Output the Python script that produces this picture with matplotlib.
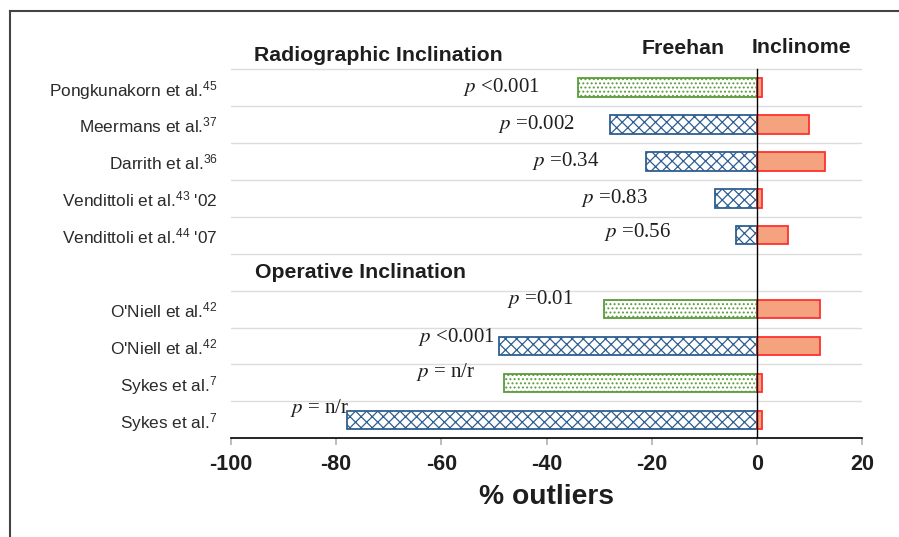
import matplotlib
matplotlib.use("Agg")
import matplotlib.pyplot as plt
from matplotlib.lines import Line2D

plt.rcParams['font.family'] = ['Liberation Sans', 'DejaVu Sans']
plt.rcParams['mathtext.fontset'] = 'custom'
plt.rcParams['mathtext.rm'] = 'Liberation Sans'
plt.rcParams['mathtext.it'] = 'Liberation Sans:italic'
plt.rcParams['mathtext.bf'] = 'Liberation Sans:bold'
plt.rcParams['hatch.linewidth'] = 0.9

# ---- data (top to bottom) ----
studies = ["Pongkunakorn et al.", "Meermans et al.", "Darrith et al.",
           "Vendittoli et al.", "Vendittoli et al.",
           "O'Niell et al.", "O'Niell et al.", "Sykes et al.", "Sykes et al."]
refs = ["45", "37", "36", "43", "44", "42", "42", "7", "7"]
suffixes = ["", "", "", " '02", " '07", "", "", "", ""]
freehand = [-34, -28, -21, -8, -4, -29, -49, -48, -78]
inclinometer = [1, 10, 13, 1, 6, 12, 12, 1, 1]
freehand_group = ["dots", "cross", "cross", "cross", "cross",
                  "dots", "cross", "dots", "cross"]
p_labels = ["<0.001", "=0.002", "=0.34", "=0.83", "=0.56",
            "=0.01", "<0.001", "= n/r", "= n/r"]
section_titles = ["Radiographic Inclination", "Operative Inclination"]
xticks = [-100, -80, -60, -40, -20, 0, 20]

# layout (positions)
rows = [9, 8, 7, 6, 5, 3, 2, 1, 0]
section_rows = [10, 4]
p_x = [-55.9, -49.2, -42.8, -33.5, -29.1, -47.5, -64.4, -64.8, -88.8]
p_dy = [0.0, 0.0, 0.0, 0.02, 0.1, 0.27, 0.25, 0.3, 0.32]

W, H = 899, 537
fig = plt.figure(figsize=(W / 100, H / 100), dpi=100)
ax_left, ax_right = 231, 862
ax_bottom_px, ax_top_px = 438.3, 32.1
ax = fig.add_axes([ax_left / W, 1 - ax_bottom_px / H,
                   (ax_right - ax_left) / W, (ax_bottom_px - ax_top_px) / H])

blue = "#2f5f8f"
green = "#5b9b3b"
red_edge = "#ff3030"
red_fill = "#f5a37f"
txt = "#1e1e1e"

for y in [r + 0.5 for r in range(10)]:
    ax.plot([-100, 20], [y, y], color="#dcdcdc", lw=1.0, zorder=0.5)

bh = 0.5
for r, fv, iv, g in zip(rows, freehand, inclinometer, freehand_group):
    if g == "dots":
        ax.barh(r, fv, height=bh, left=0, color="white", edgecolor=green,
                hatch="....", linewidth=1.3, zorder=2)
    else:
        ax.barh(r, fv, height=bh, left=0, color="white", edgecolor=blue,
                hatch="xxx", linewidth=1.3, zorder=2)
    ax.barh(r, iv, height=bh, left=0, color=red_fill, edgecolor=red_edge,
            linewidth=1.3, zorder=2)

ax.plot([0, 0], [-0.5, 9.5], color="black", lw=1.0, zorder=3)

for r, x, dy, lab in zip(rows, p_x, p_dy, p_labels):
    ax.text(x, r + dy, "$p$ " + lab, family="Liberation Serif",
            math_fontfamily="stix", fontsize=15, va="center", ha="left",
            color=txt, zorder=4)

hfs = 15.3
ax.text(-95.6, section_rows[0] - 0.13, section_titles[0], fontsize=hfs,
        fontweight="bold", va="center", ha="left", color=txt)
ax.text(-95.4, section_rows[1], section_titles[1], fontsize=hfs,
        fontweight="bold", va="center", ha="left", color=txt)
ax.text(-21.9, 10.05, "Freehan", fontsize=hfs, fontweight="bold",
        va="center", ha="left", color=txt)
ax.text(-1.0, 10.08, "Inclinome", fontsize=hfs, fontweight="bold",
        va="center", ha="left", color=txt)

ax.set_xlim(-100, 20)
ax.set_ylim(-0.5, 10.5)
ax.set_xticks(xticks)
ax.set_xticklabels([str(t) for t in xticks], fontsize=15.5,
                   fontweight="bold", color=txt)
ax.tick_params(axis="x", length=5, color="#b0b0b0", width=1.2, pad=6.5)

ylabels = [f"{s}$^{{{r}}}${suf}" for s, r, suf in zip(studies, refs, suffixes)]
ax.set_yticks(rows)
ax.set_yticklabels(ylabels, fontsize=12.4, color="#2a2a2a")
for t in ax.get_yticklabels():
    t.set_math_fontfamily("custom")
ax.tick_params(axis="y", length=0, pad=9.5)

ax.set_xlabel("% outliers", fontsize=20.3, fontweight="bold",
              color=txt, labelpad=6)

for s in ["left", "top", "right"]:
    ax.spines[s].set_visible(False)
ax.spines["bottom"].set_color("black")
ax.spines["bottom"].set_linewidth(1.2)

fig.add_artist(Line2D([10 / W, 10 / W], [0, 1 - 11 / H], color="#444444", lw=1.5))
fig.add_artist(Line2D([10 / W, 1], [1 - 11 / H, 1 - 11 / H], color="#444444", lw=1.5))

fig.savefig("out.png", dpi=100)
